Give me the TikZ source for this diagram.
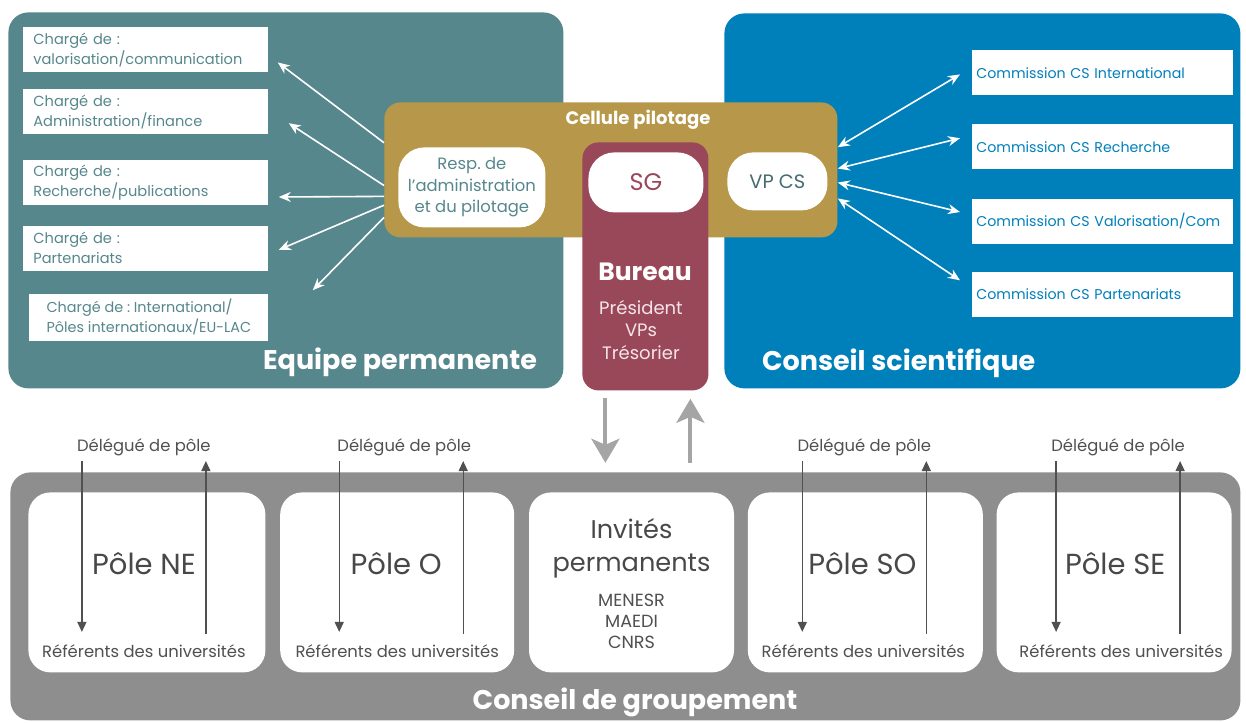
\documentclass[tikz,border=0pt]{standalone}
\usepackage{fontspec}
\setmainfont{Poppins}
\usetikzlibrary{positioning,calc,arrows.meta}

\definecolor{eqteal}{RGB}{86,135,141}
\definecolor{csblue}{RGB}{0,128,187}
\definecolor{pilgold}{RGB}{183,152,74}
\definecolor{burred}{RGB}{153,72,89}
\definecolor{grpgray}{RGB}{142,142,142}
\definecolor{txtgray}{RGB}{80,80,80}
\definecolor{arrgray}{RGB}{165,165,165}
\definecolor{burtxt}{RGB}{246,228,232}
\frenchspacing

\begin{document}
\begin{tikzpicture}[x=0.5pt,y=-0.5pt]
	\tikzstyle{panel}=[rectangle, rounded corners=10pt, inner sep=0pt, anchor=north west]
	\tikzstyle{pill}=[rectangle, fill=white, rounded corners=13pt, inner sep=0pt, anchor=north west, align=center]
	\tikzstyle{chbase}=[rectangle, fill=white, anchor=north west, minimum height=22.5pt, inner xsep=5pt, inner ysep=0pt, align=left, text=eqteal, font=\fontsize{7.3}{10}\selectfont]
	\tikzstyle{chbox}=[chbase, text width=112.5pt]
	\tikzstyle{kbox}=[rectangle, fill=white, anchor=north west, minimum height=22.5pt, inner xsep=2pt, inner ysep=0pt, text width=126.5pt, align=left, text=csblue, font=\fontsize{7.1}{10}\selectfont]
	\tikzstyle{pbox}=[rectangle, fill=white, rounded corners=11pt, minimum height=90pt, inner sep=0pt]
	\tikzstyle{big}=[text=white, font=\fontsize{13.5}{15}\selectfont\bfseries]
	\tikzstyle{small}=[text=txtgray, font=\fontsize{8.2}{10}\selectfont, inner sep=1pt]
	\tikzstyle{polelbl}=[text=txtgray!90!black, font=\fontsize{14.5}{16.5}\selectfont, align=center]
	\tikzstyle{wconn}=[-{Stealth[length=6pt,width=5pt]}, white, line width=0.8pt]
	\tikzstyle{wboth}=[{Stealth[length=6pt,width=5pt]}-{Stealth[length=6pt,width=5pt]}, white, line width=0.8pt]
	\tikzstyle{gconn}=[-{Triangle[length=5pt,width=4.5pt]}, txtgray, line width=0.7pt]
	\tikzstyle{bigarr}=[-{Stealth[length=12pt,width=14pt,inset=3pt]}, arrgray, line width=2pt]
	\useasboundingbox (0,0) rectangle (1246,722);

	% panels
	\node[panel, fill=eqteal, minimum width=277.5pt, minimum height=188pt] (eq) at (8,12) {};
	\node[panel, fill=csblue, minimum width=258pt, minimum height=187.5pt] (cs) at (724,13) {};
	\node[panel, fill=grpgray, minimum width=615pt, minimum height=124pt] (grp) at (10,472) {};
	\node[panel, fill=pilgold, rounded corners=8pt, minimum width=226.5pt, minimum height=67.5pt] (cell) at (384,102) {};
	\node[panel, fill=burred, rounded corners=8pt, minimum width=63pt, minimum height=124pt] (bur) at (582,142) {};

	\node[big] (eqlbl) at (400,362) {Equipe permanente};
	\node[big, anchor=west] (cslbl) at (755,363) {Conseil scientifique};
	\node[big] (grplbl) at (635,702) {Conseil de groupement};

	% cellule pilotage
	\node[text=white, font=\fontsize{9}{10}\selectfont\bfseries] (celllbl) at (638,120) {Cellule pilotage};
	\node[pill, minimum width=73.5pt, minimum height=40pt, text=eqteal, font=\fontsize{8.2}{10.7}\selectfont] (resp) at (398,147) {Resp. de\\l'administration\\et du pilotage};
	\node[pill, minimum width=57.5pt, minimum height=30pt, text=burred, font=\fontsize{12}{13}\selectfont] (sg) at (588,152) {SG};
	\node[pill, minimum width=50pt, minimum height=29pt, text=eqteal!80!black, font=\fontsize{9.7}{11}\selectfont] (vpcs) at (727,152) {VP CS};
	\node[text=white, font=\fontsize{12.5}{14}\selectfont\bfseries] (burlbl) at (645,272) {Bureau};
	\node[text=burtxt, font=\fontsize{9}{11.2}\selectfont, align=center] (burmem) at (641,330) {Président\\VPs\\Trésorier};

	% equipe permanente
	\node[chbox] (c1) at (23,27) {Chargé de :\\valorisation/communication};
	\node[chbox, below=8pt of c1] (c2) {Chargé de :\\Administration/finance};
	\node[chbox, below=12.5pt of c2] (c3) {Chargé de :\\Recherche/publications};
	\node[chbox, below=10pt of c3] (c4) {Chargé de :\\Partenariats};
	\node[chbase, anchor=north east, minimum width=119.5pt, minimum height=23.5pt, font=\fontsize{7.2}{10}\selectfont] (c5) at ([yshift=-11pt]c4.south east) {Chargé de : International/\\Pôles internationaux/EU-LAC};

	% conseil scientifique
	\node[kbox] (k1) at (972,50) {Commission CS International};
	\node[kbox, below=14pt of k1] (k2) {Commission CS Recherche};
	\node[kbox, below=14.5pt of k2] (k3) {Commission CS Valorisation/Com};
	\node[kbox, below=13.5pt of k3] (k4) {Commission CS Partenariats};

	\path ($(cell.north west)!0.30!(cell.south west)$) edge [wconn] ($(c1.east)+(9,12.5)$)
	($(cell.north west)!0.615!(cell.south west)$) edge [wconn] ($(c2.east)+(20,11.5)$)
	($(cell.north west)!0.695!(cell.south west)$) edge [wconn] ($(c3.east)+(10,14.5)$)
	($(cell.north west)!0.76!(cell.south west)$) edge [wconn] ($(c4.east)+(10,1.5)$)
	($(cell.north west)!0.85!(cell.south west)$) edge [wconn] ($(c5.north east)+(44,-3)$);
	\path ($(cell.north east)!0.333!(cell.south east)$) edge [wboth] ($(k1.west)+(-12,1.5)$)
	($(cell.north east)!0.49!(cell.south east)$) edge [wboth] ($(k2.west)+(-12,-8.5)$)
	($(cell.north east)!0.593!(cell.south east)$) edge [wboth] ($(k3.west)+(-12,-9.5)$)
	($(cell.north east)!0.71!(cell.south east)$) edge [wboth] ($(k4.west)+(-12,-14)$);

	% conseil de groupement
	\node[pbox, minimum width=118.5pt, anchor=north west] (ne) at (28,492) {};
	\node[pbox, minimum width=117pt, right=7pt of ne] (po) {};
	\node[pbox, minimum width=102.5pt, right=7pt of po] (inv) {};
	\node[pbox, minimum width=117.5pt, right=6.5pt of inv] (so) {};
	\node[pbox, minimum width=117.5pt, right=6.5pt of so] (se) {};

	\node[polelbl] (nelbl) at ($(ne.center)+(-3,-19)$) {Pôle NE};
	\node[polelbl] (polbl) at ($(po.center)+(-1,-19)$) {Pôle O};
	\node[polelbl] (solbl) at ($(so.center)+(-3,-19)$) {Pôle SO};
	\node[polelbl] (selbl) at ($(se.center)+(1,-19)$) {Pôle SE};
	\node[polelbl, font=\fontsize{12.8}{16.5}\selectfont] (invlbl) at ($(inv.center)+(0,-34)$) {Invités\\permanents};
	\node[small, align=center, font=\fontsize{8.8}{10.3}\selectfont] (invmem) at ($(inv.center)+(0,39)$) {MENESR\\MAEDI\\CNRS};

	\node[small] (d1) at ($(ne.north)+(-3,-45)$) {Délégué de pôle};
	\node[small] (d2) at ($(po.north)+(7,-45)$) {Délégué de pôle};
	\node[small] (d3) at ($(so.north)+(-1,-45)$) {Délégué de pôle};
	\node[small] (d4) at ($(se.north)+(4,-45)$) {Délégué de pôle};
	\node[small] (r1) at ($(ne.south)+(-3,-22)$) {Référents des universités};
	\node[small] (r2) at ($(po.south)+(0,-22)$) {Référents des universités};
	\node[small] (r3) at ($(so.south)+(-2,-22)$) {Référents des universités};
	\node[small] (r4) at ($(se.south)+(7,-22)$) {Référents des universités};

	\coordinate (a1) at ($(d1.south)+(-62,3)$);
	\coordinate (b1) at ($(d1.south)+(62,3)$);
	\coordinate (a2) at ($(d2.south)+(-65,3)$);
	\coordinate (b2) at ($(d2.south)+(59,3)$);
	\coordinate (a3) at ($(d3.south)+(-62,3)$);
	\coordinate (b3) at ($(d3.south)+(62,3)$);
	\coordinate (a4) at ($(d4.south)+(-62,3)$);
	\coordinate (b4) at ($(d4.south)+(62,3)$);
	\path (a1) edge [gconn, shorten >=5pt] (a1 |- r1.north)
	(b1 |- r1.north) edge [gconn, shorten <=4pt] (b1)
	(a2) edge [gconn, shorten >=5pt] (a2 |- r2.north)
	(b2 |- r2.north) edge [gconn, shorten <=4pt] (b2)
	(a3) edge [gconn, shorten >=5pt] (a3 |- r3.north)
	(b3 |- r3.north) edge [gconn, shorten <=4pt] (b3)
	(a4) edge [gconn, shorten >=5pt] (a4 |- r4.north)
	(b4 |- r4.north) edge [gconn, shorten <=4pt] (b4);

	% bureau <-> conseil de groupement
	\path ($(bur.south)+(-40,7)$) edge [bigarr] ($(bur.south)+(-40,72)$)
	($(bur.south)+(45,72)$) edge [bigarr] ($(bur.south)+(45,8)$);
\end{tikzpicture}
\end{document}
